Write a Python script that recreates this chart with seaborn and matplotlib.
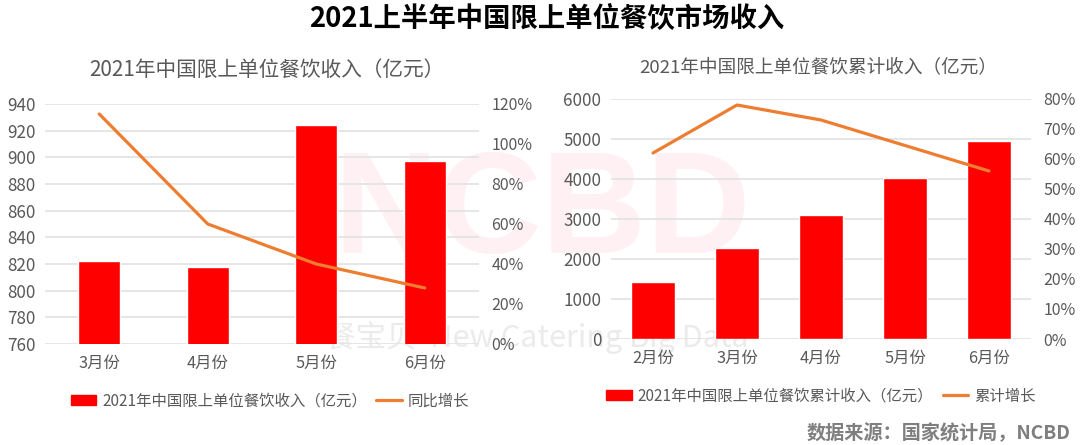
import pandas as pd
import seaborn as sns
import matplotlib.pyplot as plt
from matplotlib.patches import Patch
from matplotlib.lines import Line2D

# Monthly revenue
months_left = ['3月份', '4月份', '5月份', '6月份']
revenue_left = [822, 818, 924, 897]
growth_left = [115, 60, 40, 28]
yticks_left = [760, 780, 800, 820, 840, 860, 880, 900, 920, 940]
pct_ticks_left = [0, 20, 40, 60, 80, 100, 120]

# Cumulative revenue
months_right = ['2月份', '3月份', '4月份', '5月份', '6月份']
revenue_right = [1430, 2280, 3090, 4020, 4950]
growth_right = [62, 78, 73, 64.5, 56]
yticks_right = [0, 1000, 2000, 3000, 4000, 5000, 6000]
pct_ticks_right = [0, 10, 20, 30, 40, 50, 60, 70, 80]

W, H = 1080, 445
RED = '#ff0000'
ORANGE = '#ed7d31'
GREY = '#595959'
GRID = '#e4e4e4'

sns.set_theme(style='white')
plt.rcParams['font.family'] = ['Noto Sans CJK SC', 'DejaVu Sans']

fig = plt.figure(figsize=(W / 100, H / 100), dpi=100, facecolor='white')


def make_axes(x0, x1, y_top, y_bottom):
    return fig.add_axes([x0 / W, 1 - y_bottom / H, (x1 - x0) / W, (y_bottom - y_top) / H], facecolor='none')


def draw_panel(ax, months, revenue, growth, yticks, pct_ticks, bar_width, pct_max):
    df = pd.DataFrame({'month': months, 'revenue': revenue, 'growth': growth})
    sns.barplot(data=df, x='month', y='revenue', color=RED, saturation=1, width=bar_width, ax=ax, zorder=3)
    ax.set_ylim(yticks[0], yticks[-1])
    ax.set_yticks(yticks)
    ax.set_xlabel('')
    ax.set_ylabel('')
    ax.grid(axis='y', color=GRID, lw=1.3, zorder=1)
    ax.set_axisbelow(True)
    ax.tick_params(axis='x', length=0, labelsize=11.8, labelcolor=GREY, pad=8)
    ax.tick_params(axis='y', length=0, labelsize=12.3, labelcolor=GREY, pad=7)
    sns.despine(ax=ax, left=True, right=True, top=True, bottom=True)

    ax2 = ax.twinx()
    ax2.set_facecolor('none')
    sns.lineplot(data=df, x='month', y='growth', color=ORANGE, lw=2.3, sort=False, ax=ax2, zorder=5)
    ax2.set_ylim(0, pct_max)
    ax2.set_yticks(pct_ticks)
    ax2.set_yticklabels([f'{p}%' for p in pct_ticks])
    ax2.set_ylabel('')
    ax2.grid(False)
    ax2.tick_params(axis='y', length=0, labelsize=11.5, labelcolor=GREY, pad=9)
    sns.despine(ax=ax2, left=True, right=True, top=True, bottom=True)
    # the twin line rescales x, so pin it back to one slot per month
    ax.set_xlim(-0.5, len(months) - 0.5)


# Watermark sits behind both charts
fig.text(542 / W, 1 - 216 / H, 'NCBD', color='#fff0f4', fontsize=104, fontweight='bold',
         ha='center', va='center', family='Liberation Sans', zorder=-2)
fig.text(537 / W, 1 - 337 / H, '餐宝贝  New Catering Big Data', color='#ebebeb', fontsize=22,
         ha='center', va='center', zorder=-2)

ax_left = make_axes(45, 479, 104, 344)
draw_panel(ax_left, months_left, revenue_left, growth_left, yticks_left, pct_ticks_left, 0.39, 120)

ax_right = make_axes(611, 1031, 99, 339)
draw_panel(ax_right, months_right, revenue_right, growth_right, yticks_right, pct_ticks_right, 0.52, 80)

# Titles
fig.text(547 / W, 1 - 18 / H, '2021上半年中国限上单位餐饮市场收入', color='black', fontsize=19.7,
         fontweight='bold', ha='center', va='center')
fig.text(267 / W, 1 - 70 / H, '2021年中国限上单位餐饮收入（亿元）', color=GREY, fontsize=14.9,
         ha='center', va='center')
fig.text(818 / W, 1 - 67 / H, '2021年中国限上单位餐饮累计收入（亿元）', color=GREY, fontsize=13.4,
         ha='center', va='center')


def add_legend(center_x, y, bar_label, line_label):
    handles = [Patch(color=RED), Line2D([0], [0], color=ORANGE, lw=2.3)]
    fig.legend(handles, [bar_label, line_label], loc='center', bbox_to_anchor=(center_x / W, 1 - y / H),
               ncol=2, frameon=False, fontsize=11.1, labelcolor=GREY, handlelength=1.65, handleheight=0.6,
               handletextpad=0.4, columnspacing=0.6, borderpad=0)


add_legend(270, 401, '2021年中国限上单位餐饮收入（亿元）', '同比增长')
add_legend(821, 396, '2021年中国限上单位餐饮累计收入（亿元）', '累计增长')

fig.text(1070 / W, 1 - 433 / H, '数据来源：国家统计局，NCBD', color='#7f7f7f', fontsize=13.8,
         fontweight='bold', ha='right', va='center')

fig.savefig('out.png', dpi=100)
